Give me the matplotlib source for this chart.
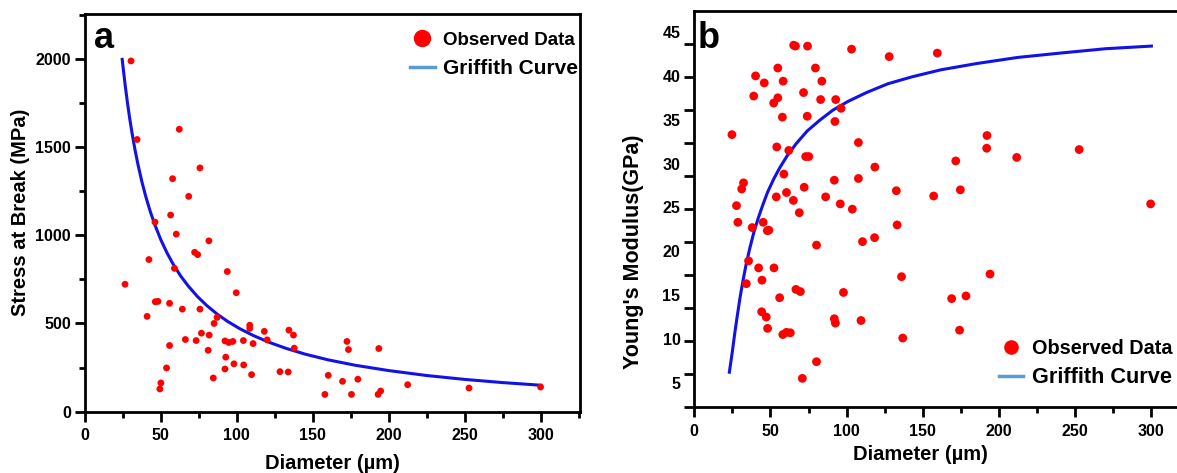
import matplotlib.pyplot as plt
from matplotlib.lines import Line2D
from matplotlib.ticker import MultipleLocator, FixedLocator

plt.rcParams['font.family'] = ['Liberation Sans', 'DejaVu Sans']
plt.rcParams['font.weight'] = 'bold'

# panel a: stress at break vs diameter
stress_d = [30.3, 34.3, 26.4, 62.1, 57.7, 75.7, 68.3, 56.4, 46.1, 60.1, 81.6, 72.2, 74.2, 42.1,
            58.9, 93.7, 99.6, 46.3, 48.1, 55.7, 64.1, 75.7, 40.9, 87.0, 85.0, 108.5, 108.5, 76.7,
            81.8, 118.1, 120.0, 134.3, 137.3, 137.8, 66.1, 73.2, 92.2, 94.7, 97.4, 104.3, 110.7,
            55.7, 81.1, 92.7, 98.1, 104.5, 53.7, 92.2, 109.7, 128.4, 133.8, 84.5, 50.0, 49.3,
            160.2, 169.6, 179.7, 172.5, 173.5, 193.5, 158.0, 175.5, 193.0, 194.7, 212.5, 252.9, 300.0]
stress_v = [1987, 1542, 722, 1600, 1320, 1381, 1220, 1114, 1074, 1006, 968, 903, 890, 862,
            812, 794, 674, 623, 625, 614, 581, 581, 540, 534, 500, 490, 472, 445,
            434, 455, 407, 462, 434, 360, 409, 403, 401, 392, 398, 403, 386,
            375, 348, 309, 271, 265, 248, 242, 210, 227, 225, 191, 163, 129,
            206, 172, 184, 398, 352, 358, 98, 98, 98, 117, 153, 134, 140]
stress_fit_d = [24.5, 25.5, 26.5, 28, 29.5, 31, 33, 35, 37.5, 40, 43, 46, 50, 54, 58, 63, 68,
                74, 80, 87, 94, 102, 111, 121, 132, 145, 160, 178, 200, 225, 250, 275, 300]
stress_fit_v = [1996, 1921, 1848, 1748, 1659, 1578, 1481, 1396, 1302, 1220, 1134, 1059, 973,
                900, 837, 769, 712, 653, 603, 553, 511, 470, 431, 394, 360, 326, 294, 263,
                233, 205, 183, 165, 150]

# panel b: young's modulus vs diameter
mod_d = [66.4, 65.2, 74.3, 103.2, 127.9, 159.5, 54.8, 79.5, 40.2, 45.9, 58.3, 83.7, 39.0, 71.7,
         54.8, 52.1, 82.9, 92.8, 96.3, 57.8, 74.1, 92.3, 24.7, 107.7, 54.1, 62.0, 73.1, 75.1,
         192.1, 191.9, 211.6, 252.6, 171.6, 118.5, 58.8, 91.9, 107.7, 32.3, 31.1, 72.1, 132.6,
         174.6, 53.8, 60.5, 65.0, 86.2, 157.1, 95.8, 103.7, 68.9, 27.7, 28.6, 133.1, 299.5,
         38.0, 45.2, 47.9, 48.9, 110.4, 118.3, 80.2, 35.6, 42.2, 52.3, 44.4, 34.1, 136.0,
         194.1, 66.7, 69.6, 97.9, 56.0, 168.9, 178.3, 44.2, 47.2, 91.9, 92.6, 109.4, 48.1,
         58.1, 60.5, 63.0, 174.1, 136.8, 80.2, 70.9]
mod_v = [43.4, 43.5, 43.4, 43.05, 42.2, 42.6, 40.9, 40.9, 40.0, 39.2, 39.4, 39.4, 37.7, 38.1,
         37.5, 36.9, 37.3, 37.3, 36.3, 35.3, 35.4, 34.8, 33.3, 32.4, 31.9, 31.5, 30.8, 30.8,
         33.2, 31.75, 30.7, 31.6, 30.3, 29.6, 28.8, 28.1, 28.3, 27.8, 27.1, 27.3, 26.9,
         27.0, 26.2, 26.7, 25.8, 26.2, 26.3, 25.4, 24.8, 24.4, 25.2, 23.3, 23.0, 25.4,
         22.7, 23.3, 22.35, 22.4, 21.1, 21.55, 20.7, 18.9, 18.1, 18.1, 16.7, 16.3, 17.1,
         17.4, 15.65, 15.4, 15.3, 14.7, 14.6, 14.9, 13.1, 12.5, 12.3, 11.8, 12.1, 11.2,
         10.5, 10.75, 10.7, 11.0, 10.1, 7.4, 5.5]
mod_fit_d = [23, 24, 25, 26.5, 28, 30, 32, 34, 36.5, 39, 42, 45, 48, 52, 56, 61, 67, 74, 82,
             91, 101, 113, 127, 143, 162, 185, 212, 240, 270, 300]
mod_fit_v = [6.2, 7.4, 8.6, 10.6, 12.4, 14.7, 16.7, 18.5, 20.4, 22.1, 23.8, 25.3, 26.7, 28.2,
             29.5, 30.9, 32.3, 33.7, 34.9, 36.1, 37.1, 38.1, 39.1, 39.9, 40.7, 41.4, 42.1,
             42.6, 43.1, 43.4]

mod_ticks = [5, 10, 15, 20, 25, 30, 35, 40, 45]

fig = plt.figure(figsize=(11.77, 4.73), dpi=100)
ax1 = fig.add_axes([0.0722, 0.1296, 0.4206, 0.8408])
ax2 = fig.add_axes([0.5899, 0.1389, 0.422, 0.8378])

curve_col = '#1212e6'
leg_line = '#5b9bd5'

ax1.plot(stress_fit_d, stress_fit_v, color=curve_col, lw=2.2, zorder=2)
ax1.scatter(stress_d, stress_v, s=24, color='red', edgecolors='none', zorder=3)
ax2.plot(mod_fit_d, mod_fit_v, color=curve_col, lw=2.2, zorder=2)
ax2.scatter(mod_d, mod_v, s=40, color='red', edgecolors='none', zorder=3)

ax1.set_xlim(0, 326)
ax1.set_ylim(0, 2253)
ax2.set_xlim(0, 326)
ax2.set_ylim(2.2, 47.4)

for ax in (ax1, ax2):
    for sp in ax.spines.values():
        sp.set_linewidth(2)
    ax.xaxis.set_major_locator(MultipleLocator(50))
    ax.xaxis.set_minor_locator(MultipleLocator(25))
    ax.tick_params(which='major', direction='out', length=7, width=2, labelsize=11.5, pad=3)
    ax.tick_params(which='minor', direction='out', length=4, width=2)
    ax.tick_params(axis='x', which='major', pad=5)

ax1.yaxis.set_major_locator(MultipleLocator(500))
ax1.yaxis.set_minor_locator(MultipleLocator(250))

# tick marks on b do not sit on the labels (as in the original figure)
ax2.yaxis.set_major_locator(FixedLocator(mod_ticks))
ax2.yaxis.set_minor_locator(FixedLocator([2.2 + 3.767 * k for k in range(12)]))
ax2.yaxis.remove_overlapping_locs = False
ax2.tick_params(axis='y', which='major', length=0, pad=10)
ax2.tick_params(axis='y', which='minor', length=7, width=2)

ax1.set_xlabel('Diameter (µm)', fontsize=14.5, fontweight='bold', va='center')
ax1.xaxis.set_label_coords(0.5, -0.129)
ax1.set_ylabel('Stress at Break (MPa)', fontsize=14.5, fontweight='bold', va='center')
ax1.yaxis.set_label_coords(-0.131, 0.502)

ax2.set_xlabel('Diameter (µm)', fontsize=14.5, fontweight='bold', va='center')
ax2.xaxis.set_label_coords(0.455, -0.120)
ax2.set_ylabel("Young's Modulus(GPa)", fontsize=15.5, fontweight='bold', va='center')
ax2.yaxis.set_label_coords(-0.123, 0.393)

ax1.text(0.019, 0.9145, 'a', transform=ax1.transAxes, fontsize=26, fontweight='bold',
         va='baseline', ha='left')
ax2.text(0.0075, 0.9066, 'b', transform=ax2.transAxes, fontsize=26, fontweight='bold',
         va='baseline', ha='left')

def add_legend(ax, anchor, ms, sizes, spacing):
    h_pts = Line2D([], [], ls='none', marker='o', color='red', ms=ms)
    h_fit = Line2D([], [], color=leg_line, lw=2.5)
    leg = ax.legend([h_pts, h_fit], ['Observed Data', 'Griffith Curve'], loc='upper left',
                    bbox_to_anchor=anchor, frameon=False, borderpad=0, borderaxespad=0,
                    handlelength=1.3 * 13.5 / sizes[0], handletextpad=0.45 * 13.5 / sizes[0],
                    labelspacing=spacing, prop={'size': sizes[0], 'weight': 'bold'})
    leg.get_texts()[1].set_fontsize(sizes[1])
    return leg

add_legend(ax1, (0.657, 0.955), 11.5, (13.5, 15), 0.52)
add_legend(ax2, (0.613, 0.172), 9.5, (14.3, 15.7), 0.46)

fig.savefig('out.png', dpi=100)
